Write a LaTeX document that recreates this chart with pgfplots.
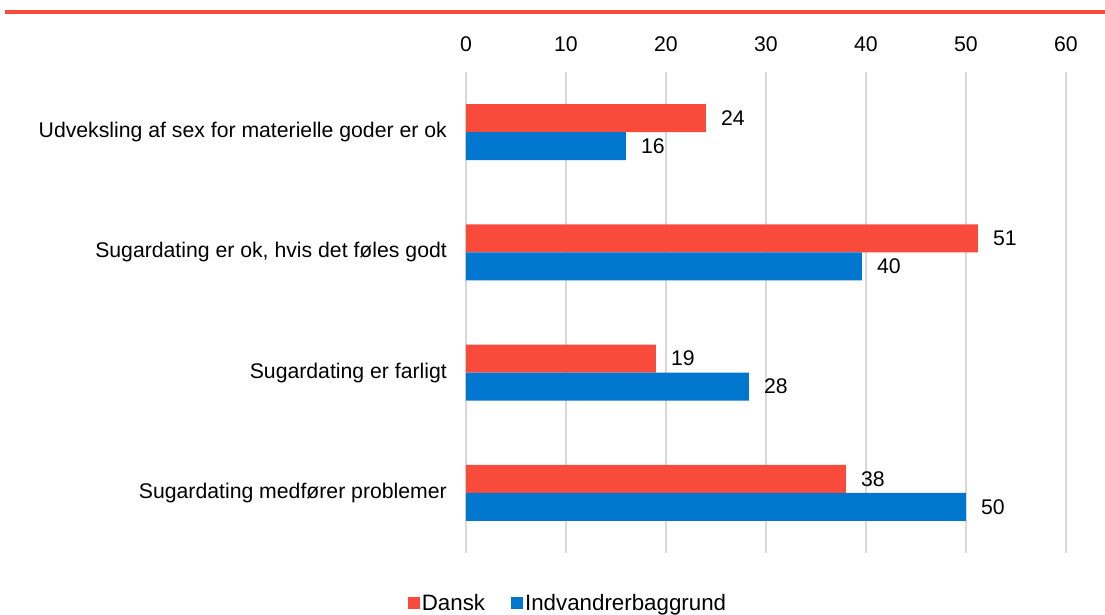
\documentclass[border=0pt]{standalone}
\usepackage{pgfplots}
\pgfplotsset{compat=1.18}
\usepackage{fontspec}
\setmainfont{Liberation Sans}
\definecolor{dansk}{HTML}{F94B3C}
\definecolor{indv}{HTML}{0076CE}
\definecolor{gridgray}{HTML}{D9D9D9}
\newcommand{\chartfont}{\fontsize{21.3}{25}\selectfont}
\begin{document}
\begin{tikzpicture}
% page = 1105 x 615 bp, axis origin at (466,62) from the lower left
\useasboundingbox (-466bp,-62bp) rectangle (639bp,553bp);
\fill[dansk] (-461bp,539bp) rectangle (639bp,543bp);
\begin{axis}[
  at={(0,0)}, anchor=south west,
  scale only axis, width=600bp, height=481bp,
  xbar, bar width=28bp,
  xmin=0, xmax=60, ymin=-0.5, ymax=3.5,
  xtick={0,10,...,60},
  xticklabel pos=upper,
  ytick={0,1,2,3},
  yticklabels={Sugardating medfører problemer, Sugardating er farligt,
    {Sugardating er ok, hvis det føles godt},
    Udveksling af sex for materielle goder er ok},
  xmajorgrids,
  major grid style={gridgray, line width=1.3bp},
  axis line style={draw=none},
  major tick length=0pt,
  /pgf/number format/assume math mode=true,
  tick label style={font=\chartfont},
  xticklabel style={inner sep=0pt, yshift=20bp},
  yticklabel style={inner sep=0pt, xshift=-19bp},
  point meta=x,
  nodes near coords,
  nodes near coords style={font=\chartfont, anchor=west,
    inner sep=0pt, xshift=15bp,
    /pgf/number format/.cd, fixed, precision=0},
  legend columns=2,
  legend style={draw=none, at={(0.17,-0.104)}, anchor=center,
    font=\fontsize{22.4}{26}\selectfont, inner sep=0pt,
    /tikz/every even column/.append style={column sep=24bp}},
  legend image code/.code={\fill[#1] (0bp,-6bp) rectangle (12bp,6bp);},
]
\addplot[fill=dansk, draw=none, bar shift=14bp] coordinates {(38,0) (19,1) (51.2,2) (24,3)};
\addplot[fill=indv, draw=none, bar shift=-14bp] coordinates {(50,0) (28.3,1) (39.6,2) (16,3)};
\legend{Dansk, Indvandrerbaggrund}
\end{axis}
\end{tikzpicture}
\end{document}
